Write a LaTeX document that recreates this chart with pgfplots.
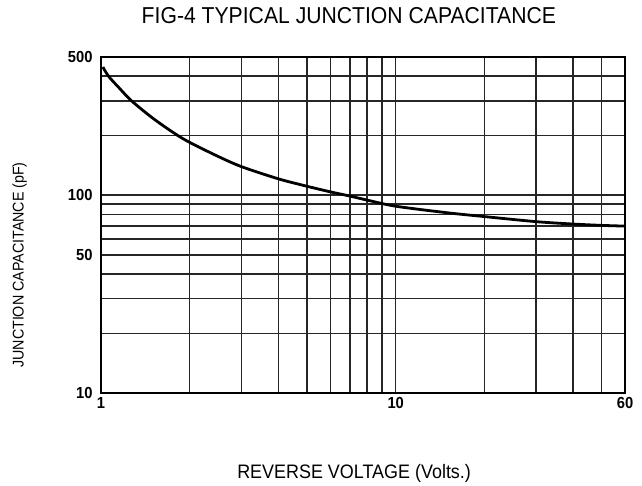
\documentclass[border=0pt]{standalone}
\usepackage{fontspec}
\setmainfont{Liberation Sans}[FakeStretch=0.92]
\usepackage{pgfplots}
\pgfplotsset{compat=1.18}
\begin{document}
\begin{tikzpicture}
\begin{loglogaxis}[
scale only axis,
width=524pt, height=336pt,
xmin=1, xmax=60,
ymin=10, ymax=500,
xtick={1,10,60}, xticklabels={1,10,60},
ytick={10,50,100,500}, yticklabels={10,50,100,500},
minor xtick={2,3,4,5,6,7,8,9,20,30,40,50},
minor ytick={20,30,40,60,70,80,90,200,300,400},
grid=both,
major grid style={black!85, line width=1.6pt},
minor grid style={black!85, line width=1.6pt},
axis line style={black, line width=1.6pt},
tick style={draw=none},
tick label style={font=\fontsize{16}{16}\selectfont\bfseries},
/pgf/number format/assume math mode=true,
xticklabel style={yshift=-1pt},
yticklabel style={xshift=-5pt},
title={FIG-4 TYPICAL JUNCTION CAPACITANCE},
title style={font=\fontsize{23}{23}\selectfont, at={(axis description cs:0.473,1.1057)}, anchor=center},
xlabel={REVERSE VOLTAGE (Volts.)},
ylabel={JUNCTION CAPACITANCE (pF)},
xlabel style={font=\fontsize{19.5}{19.5}\selectfont, at={(axis description cs:0.483,-0.238)}, anchor=center},
ylabel style={font=\fontsize{15.5}{15.5}\selectfont, at={(axis description cs:-0.1555,0.381)}, anchor=center},
]
\addplot[black, line width=2.8pt, smooth] coordinates {
(1.015,445) (1.06,400) (1.15,350) (1.27,300) (1.5,245) (1.78,205) (2,185)
(2.5,157) (3,139.4) (4,121) (5,111) (6,104) (7,99) (8,94.5) (10,88)
(15,81.5) (20,78) (30,73.5) (40,71.5) (50,70.4) (60,69.8)
};
\end{loglogaxis}
\path ([xshift=-101pt,yshift=-92pt]current axis.south west) rectangle ([xshift=17pt,yshift=57pt]current axis.north east);
\end{tikzpicture}
\end{document}
